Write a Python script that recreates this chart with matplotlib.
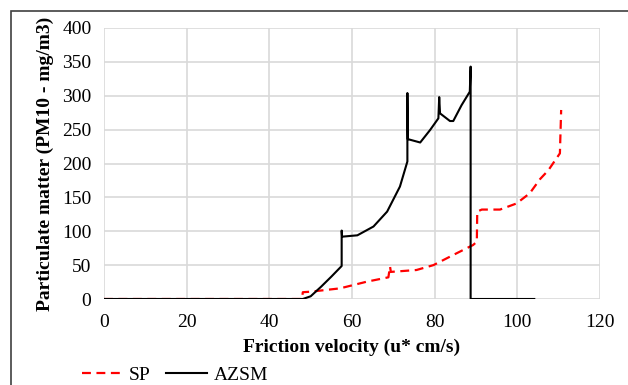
import matplotlib.pyplot as plt
from matplotlib.patches import Rectangle

plt.rcParams['font.family'] = ['Liberation Serif', 'DejaVu Serif']

sp_x = [0, 47.9, 48.1, 50, 57.1, 63.6, 68.8, 69.2, 69.4, 75.6, 79.7, 84.5, 89.3, 90.2, 90.3,
        91.4, 95.8, 99.8, 103, 105.5, 107.5, 110.3, 110.6]
sp_y = [0, 0, 10, 10.8, 15.7, 25.6, 32, 48, 40, 42.8, 50, 65, 79.7, 84.6, 129,
        132, 132, 141, 156, 177, 190, 215, 279]

azsm_x = [0, 48.1, 50, 52.5, 55, 57.5, 57.5, 57.6, 61.3, 65.2, 68.5, 71.6, 73.4, 73.4, 73.5,
          76.5, 78.9, 80.9, 81.1, 81.3, 83.7, 84.5, 86.5, 88.5, 88.7, 88.7, 104.1]
azsm_y = [0, 0, 4, 18, 33, 48.7, 101, 92, 94, 107, 129, 166, 203, 304, 236,
          231, 249.5, 266.7, 298, 274, 262.7, 262.7, 286, 306, 343, 0, 0]

fig = plt.figure(figsize=(6.28, 3.85), dpi=100)
ax = fig.add_axes([104 / 628, 1 - 299 / 385, 496 / 628, 271 / 385])

fig.patches.append(Rectangle((11 / 628, -0.1), 1.2, 1 - 11 / 385 + 0.1, transform=fig.transFigure,
                             fill=False, edgecolor='#404040', linewidth=1.2))

ax.plot(sp_x, sp_y, color='#ff0000', linestyle=(0, (4, 2.5)), linewidth=1.6, label='SP')
ax.plot(azsm_x, azsm_y, color='black', linewidth=1.5, label='AZSM')

ax.set_xlim(0, 120)
ax.set_ylim(0, 400)
ax.set_xticks(range(0, 121, 20))
ax.set_yticks(range(0, 401, 50))
ax.grid(True, color='#d9d9d9', linewidth=1.2)
ax.set_axisbelow(True)
for s in ax.spines.values():
    s.set_visible(False)
ax.tick_params(length=0, labelsize=14)
ax.tick_params(axis='y', pad=9)
ax.tick_params(axis='x', pad=11)

ax.set_xlabel('Friction velocity (u* cm/s)', fontsize=14, fontweight='bold', labelpad=5)
ax.set_ylabel('Particulate matter (PM10 - mg/m3)', fontsize=14, fontweight='bold', labelpad=6)

fig.legend(loc='lower left', bbox_to_anchor=(64 / 628, -0.043), ncol=2, frameon=False,
           fontsize=14, handlelength=2.1, columnspacing=0.8, handletextpad=0.35)

fig.savefig('out.png')
